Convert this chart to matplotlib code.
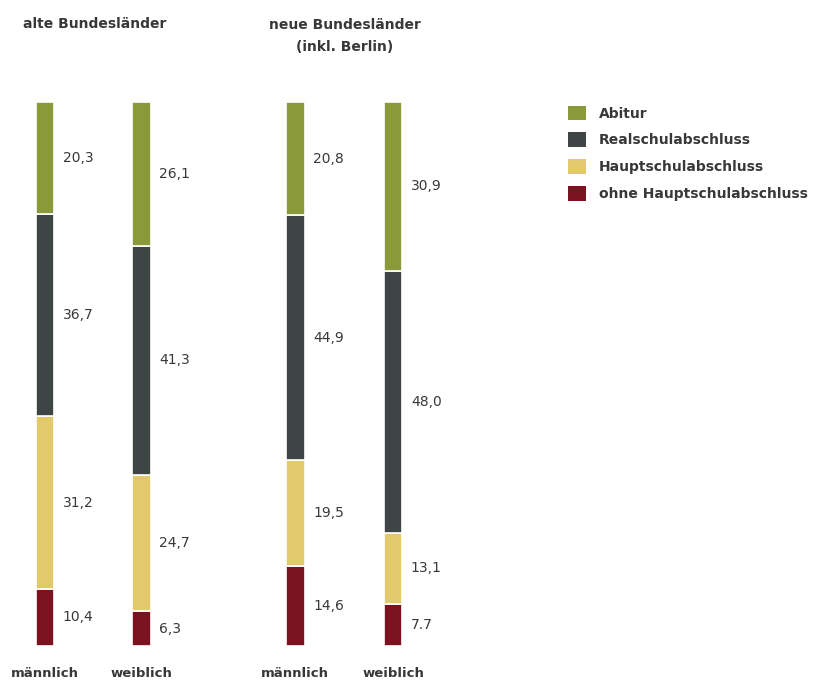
import numpy as np
import matplotlib.pyplot as plt
from matplotlib.patches import Patch

plt.rcParams['font.family'] = ['DejaVu Sans']

categories = ['Abitur', 'Realschulabschluss', 'Hauptschulabschluss', 'ohne Hauptschulabschluss']
bar_names = ['männlich', 'weiblich', 'männlich', 'weiblich']
# values per bar, bottom to top: ohne HS, HS, Realschule, Abitur
ohne_hs = [10.4, 6.3, 14.6, 7.7]
hauptschule = [31.2, 24.7, 19.5, 13.1]
realschule = [36.7, 41.3, 44.9, 48.0]
abitur = [20.3, 26.1, 20.8, 30.9]
value_labels = [
    ['10,4', '31,2', '36,7', '20,3'],
    ['6,3', '24,7', '41,3', '26,1'],
    ['14,6', '19,5', '44,9', '20,8'],
    ['7.7', '13,1', '48,0', '30,9'],
]
group_titles = ['alte Bundesländer', 'neue Bundesländer\n(inkl. Berlin)']

colors = ['#8a9a3b', '#3e4645', '#e2c96b', '#7a1220']  # Abitur, Real, Haupt, ohne
txt = '#383838'

xpos = np.array([0, 1, 2.59, 3.6])
width = 0.19

fig = plt.figure(figsize=(8.18, 6.82), dpi=100)
ax = fig.add_axes([6.2 / 818, 1 - 646 / 682, (422 - 6.2) / 818, (646 - 102) / 682])
ax.set_xlim(-0.4, 3.9)
ax.set_ylim(0, 100)
ax.axis('off')

stack = np.array([ohne_hs, hauptschule, realschule, abitur])
totals = stack.sum(axis=0)
norm = stack / totals * 100
seg_colors = [colors[3], colors[2], colors[1], colors[0]]

bottom = np.zeros(4)
for k in range(4):
    ax.bar(xpos, norm[k], width, bottom=bottom, color=seg_colors[k],
           edgecolor='white', linewidth=1.2)
    for i in range(4):
        ax.text(xpos[i] + width / 2 + 0.09, bottom[i] + norm[k][i] / 2,
                value_labels[i][k], ha='left', va='center', fontsize=10, color=txt)
    bottom += norm[k]

for i in range(4):
    ax.text(xpos[i], -5.0, bar_names[i], ha='center', va='center',
            fontsize=9.5, fontweight='bold', color=txt)

fig.text(95 / 818, 1 - 24 / 682, group_titles[0], ha='center', va='center',
         fontsize=10, fontweight='bold', color=txt)
fig.text(345 / 818, 1 - 36 / 682, group_titles[1], ha='center', va='center',
         fontsize=10, fontweight='bold', color=txt, linespacing=1.75)

handles = [Patch(facecolor=c, edgecolor='none') for c in colors]
fig.legend(handles, categories, loc='upper left', bbox_to_anchor=(555 / 818, 1 - 93 / 682),
           frameon=False, handlelength=1.3, handleheight=1.25, handletextpad=0.95,
           labelspacing=0.85, prop={'size': 10, 'weight': 'bold'}, labelcolor=txt)

fig.savefig('out.png', dpi=100)
